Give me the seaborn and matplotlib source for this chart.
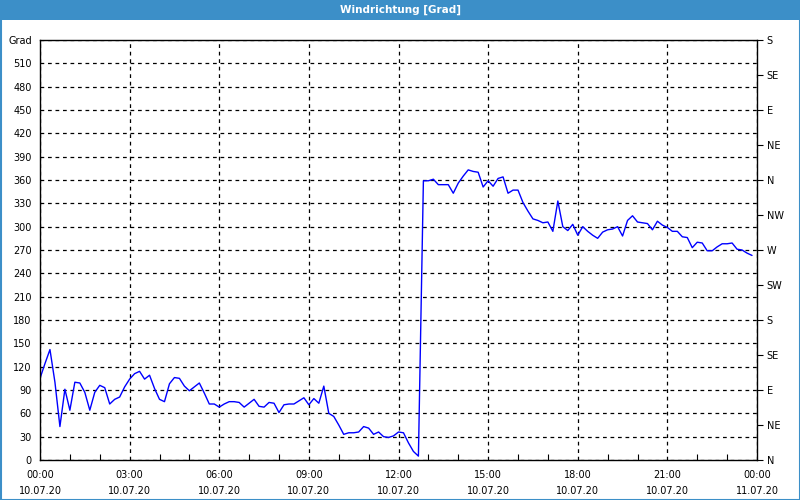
import matplotlib
matplotlib.use("Agg")
import matplotlib.pyplot as plt
import matplotlib.dates as mdates
from matplotlib.patches import Rectangle
import numpy as np
import pandas as pd
import seaborn as sns

# ---- data (10-minute wind direction, degrees) ----
start_time = "2020-07-10 00:00"
interval = "10min"
direction = [
    105, 124, 142, 100, 43, 91, 64, 100, 99, 87,
    64, 87, 96, 93, 72, 78, 81, 94, 104, 111,
    114, 104, 109, 92, 78, 75, 98, 106, 105, 95,
    89, 94, 99, 86, 72, 72, 68, 72, 75, 75,
    74, 68, 73, 78, 69, 68, 74, 73, 61, 71,
    72, 72, 76, 80, 71, 79, 73, 95, 60, 56,
    45, 33, 35, 35, 36, 43, 41, 33, 36, 30,
    29, 31, 36, 35, 22, 11, 5, 359, 359, 361,
    354, 354, 354, 343, 356, 365, 373, 371, 370, 351,
    359, 352, 362, 364, 343, 347, 347, 331, 320, 310,
    308, 305, 306, 294, 333, 300, 295, 303, 289, 300,
    294, 289, 285, 293, 296, 297, 300, 288, 308, 314,
    306, 305, 304, 296, 307, 302, 299, 294, 294, 287,
    286, 273, 280, 279, 269, 269, 274, 278, 278, 279,
    271, 270, 266, 263,
]
left_ticks = list(range(0, 511, 30))
left_label_top = "Grad"
compass_labels = ["N", "NE", "E", "SE", "S", "SW", "W", "NW", "N", "NE", "E", "SE", "S"]
title = "Windrichtung [Grad]"

times = pd.date_range(start_time, periods=len(direction), freq=interval)
df = pd.DataFrame({"time": times, "dir": direction})

sns.set_theme(style="white")
plt.rcParams["font.family"] = ["DejaVu Sans"]

fig = plt.figure(figsize=(8, 5), dpi=100, facecolor="white")
ax = fig.add_axes([40 / 800, 40 / 500, 717 / 800, 420 / 500])
ax.set_facecolor("white")

sns.lineplot(data=df, x="time", y="dir", ax=ax, color="#0000ff", linewidth=1.0)

t0 = pd.Timestamp(start_time)
t1 = t0 + pd.Timedelta(hours=24)
ax.set_xlim(t0, t1)
ax.set_ylim(0, 540)

ax.set_yticks(left_ticks + [540])
ax.set_yticklabels([str(v) for v in left_ticks] + [left_label_top])
ax.tick_params(axis="y", length=0, pad=6, labelsize=7, colors="black")

ax.xaxis.set_major_locator(mdates.HourLocator(byhour=range(0, 24, 3)))
ax.xaxis.set_minor_locator(mdates.HourLocator())
ax.xaxis.set_major_formatter(mdates.DateFormatter("%H:%M\n%d.%m.%y"))
ax.tick_params(axis="x", which="major", length=0, pad=7, labelsize=7, colors="black")
ax.tick_params(axis="x", which="minor", direction="in", length=4, width=0.8, color="black", bottom=True)
for lbl in ax.get_xticklabels():
    lbl.set_linespacing(1.75)

ax.grid(True, which="major", color="black", linestyle=(0, (3, 3)), linewidth=0.9)
ax.set_xlabel("")
ax.set_ylabel("")
for s in ax.spines.values():
    s.set_visible(True)
    s.set_color("black")
    s.set_linewidth(1.0)

ax2 = ax.twinx()
ax2.set_ylim(0, 540)
ax2.set_yticks(np.arange(0, 541, 45))
ax2.set_yticklabels(compass_labels)
ax2.tick_params(axis="y", direction="out", length=4, width=0.8, color="black", pad=3, labelsize=7, colors="black")
ax2.grid(False)
for s in ax2.spines.values():
    s.set_visible(False)

# title bar and frame
fig.patches.append(Rectangle((0, 1 - 20 / 500), 1, 20 / 500, transform=fig.transFigure,
                             facecolor="#3c8fc8", edgecolor="none", zorder=0))
fig.patches.append(Rectangle((0.5 / 800, 0.5 / 500), 799 / 800, 499 / 500, transform=fig.transFigure,
                             facecolor="none", edgecolor="#3c8fc8", linewidth=1.5, zorder=5))
fig.text(0.5, 1 - 10 / 500, title, color="white", ha="center", va="center",
         fontsize=7.5, fontweight="bold")

fig.savefig("out.png", dpi=100, facecolor="white")
